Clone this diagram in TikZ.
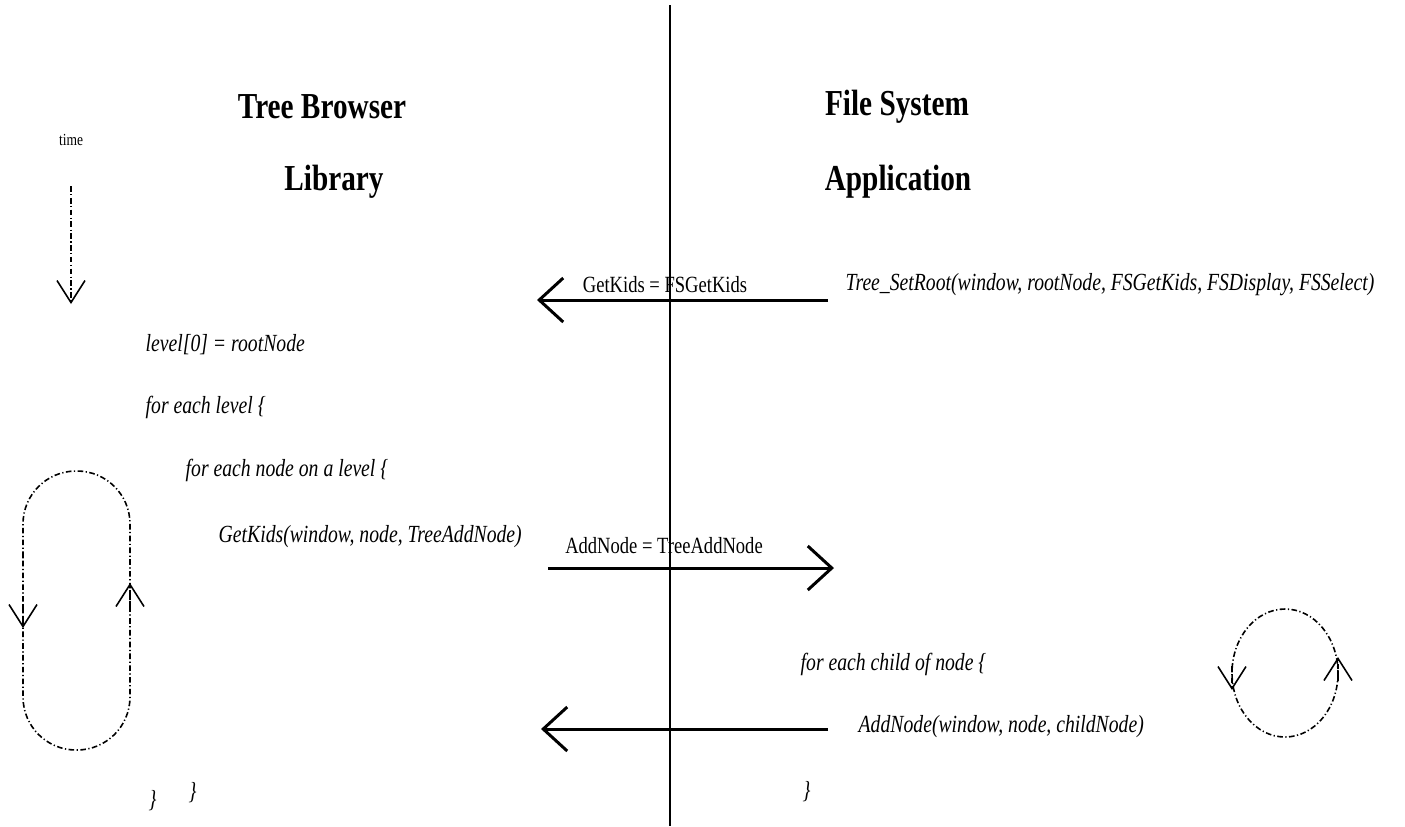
\documentclass[tikz,border=0pt]{standalone}
\usepackage{fontspec}
\setmainfont{Liberation Serif}[FakeStretch=0.8]
\usetikzlibrary{arrows.meta,positioning}
\definecolor{inkblack}{RGB}{0,0,0}

\begin{document}
\begin{tikzpicture}[x=0.01cm,y=-0.01cm,
    heading/.style={font=\fontsize{10.4}{12}\selectfont\bfseries,inkblack},
    codeline/.style={font=\fontsize{7}{8}\selectfont\itshape,anchor=west,inner sep=0pt,inkblack},
    calllabel/.style={font=\fontsize{6.6}{7}\selectfont,inner sep=1pt,inkblack},
    callarrow/.style={-{Straight Barb[length=2.4mm,width=4.4mm]},line width=0.85pt},
    looparrow/.style={dash pattern=on 1.6pt off 0.7pt on 0.35pt off 0.7pt,line width=0.45pt},
    loophead/.style={looparrow,-{Straight Barb[length=2.2mm,width=2.8mm]}}]
  \useasboundingbox (0,0) rectangle (1405,826);
  % Divider between library and application
  \draw[line width=0.85pt] (670,5) -- (670,826);
  % Headings
  \node[heading] (tb) at (322,107) {Tree Browser};
  \node[heading] (lib) at (334,182) {Library};
  \node[heading] (fs) at (897,107) {File System};
  \node[heading] (app) at (898,182) {Application};
  % Time axis
  \node[font=\fontsize{4.8}{5}\selectfont] (time) at (71,140) {time};
  \coordinate (tend) at (71,304);
  \draw[loophead] (time.south) ++(0,28) -- (tend);
  % Library side
  \node[codeline] (lvl) at (145,345) {level[0] = rootNode};
  \node[codeline] (each) at (145,407) {for each level \{};
  \node[codeline] (eachnode) at (185,470) {for each node on a level \{};
  \node[codeline] (getkids) at (218,537) {GetKids(window, node, TreeAddNode)};
  \node[codeline] (close1) at (148,801) {\}};
  \node[codeline] (close2) at (188,793) {\}};
  % Application side
  \node[codeline] (setroot) at (845,285) {Tree\_SetRoot(window, rootNode, FSGetKids, FSDisplay, FSSelect)};
  \node[codeline] (child) at (800,664) {for each child of node \{};
  \node[codeline] (addnode) at (858,727) {AddNode(window, node, childNode)};
  \node[codeline] (close3) at (802,792) {\}};
  % Calls across the divider
  \coordinate (a1) at (537,300);
  \coordinate (a2) at (834,568);
  \coordinate (a3) at (541,729);
  \draw[callarrow] (setroot.west |- a1) ++(-17,0) -- (a1);
  \draw[callarrow] (getkids.east |- a2) ++(26,0) -- (a2);
  \draw[callarrow] (addnode.west |- a3) ++(-30,0) -- (a3);
  \node[calllabel] (lab1) at (665,285) {GetKids = FSGetKids};
  \node[calllabel] (lab2) at (664,546) {AddNode = TreeAddNode};
  % Left loop
  \draw[looparrow,rounded corners=0.53cm] (23,610) -- (23,471) -- (130,471) -- (130,750) -- (23,750) -- cycle;
  \draw[loophead] (23,604) -- (23,628);
  \draw[loophead] (130,607) -- (130,583);
  % Right loop
  \draw[looparrow] (1285,673) ellipse (53 and 64);
  \draw[loophead] (1232,666) -- (1232,690);
  \draw[loophead] (1338,681) -- (1338,657);
\end{tikzpicture}
\end{document}
